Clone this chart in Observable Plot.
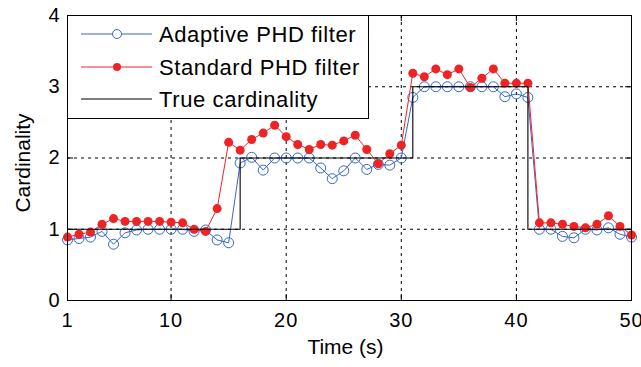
<!DOCTYPE html>
<html><head><meta charset="utf-8">
<script src="https://cdn.jsdelivr.net/npm/d3@7"></script>
<script src="https://cdn.jsdelivr.net/npm/@observablehq/plot@0.6"></script>
<style>
body{margin:0;background:#fff;}
#chart{position:relative;width:641px;height:367px;}
#chart svg text{font-family:"Liberation Sans",Arial,sans-serif;}
#chart g[aria-label="x-axis tick label"] text, #chart g[aria-label="y-axis tick label"] text{letter-spacing:1px;}
</style></head><body><div id="chart"></div>
<script>
const time = [1,2,3,4,5,6,7,8,9,10,11,12,13,14,15,16,17,18,19,20,21,22,23,24,25,26,27,28,29,30,31,32,33,34,35,36,37,38,39,40,41,42,43,44,45,46,47,48,49,50];
const adaptive = [0.85,0.87,0.89,0.97,0.79,0.95,0.99,1.0,1.0,1.0,1.0,0.97,0.99,0.85,0.81,
  1.93,2.01,1.83,2.0,2.0,2.0,2.0,1.86,1.71,1.82,2.0,1.84,1.91,1.9,2.0,
  2.85,3.0,3.0,3.0,3.0,3.0,3.0,3.0,2.86,2.9,
  2.85,1.0,1.0,0.9,0.88,1.0,0.99,1.02,0.93,0.89];
const standard = [0.89,0.93,0.96,1.07,1.15,1.11,1.11,1.11,1.11,1.10,1.09,1.0,0.97,1.29,
  2.22,2.11,2.26,2.35,2.46,2.30,2.19,2.12,2.19,2.18,2.24,2.32,2.12,1.92,2.06,2.18,
  3.19,3.14,3.25,3.17,3.25,2.99,3.12,3.25,3.05,3.05,3.05,
  1.09,1.09,1.07,1.04,1.02,1.07,1.19,1.04,0.92];
const trueCard = [1,1,1,1,1,1,1,1,1,1,1,1,1,1,1,
  2,2,2,2,2,2,2,2,2,2,2,2,2,2,2,
  3,3,3,3,3,3,3,3,3,3,
  1,1,1,1,1,1,1,1,1,1];
const xTicks = [1,10,20,30,40,50];
const yTicks = [0,1,2,3,4];
const xGrid = [10,20,30,40];
const yGrid = [1,2,3];
const seriesNames = ["Adaptive PHD filter","Standard PHD filter","True cardinality"];
const xLabel = "Time (s)";
const yLabel = "Cardinality";

const W = 641, H = 367, mL = 67, mR = 10, mT = 15, mB = 67;
const innerW = W - mL - mR, innerH = H - mT - mB;
const tick = 6;
const blue = "#3566cc", red = "#ee2424";
const rows = time.map((t, i) => ({t, a: adaptive[i], s: standard[i], c: trueCard[i]}));

const plot = Plot.plot({
  width: W, height: H,
  marginLeft: mL, marginRight: mR, marginTop: mT, marginBottom: mB,
  style: {fontFamily: "Liberation Sans, Arial, sans-serif", fontSize: "20px", color: "#000", background: "#fff", overflow: "visible"},
  x: {domain: [1, 50]},
  y: {domain: [0, 4]},
  marks: [
    Plot.ruleX(xGrid, {stroke: "#000", strokeDasharray: "3,4", strokeWidth: 1}),
    Plot.ruleY(yGrid, {stroke: "#000", strokeDasharray: "3,4", strokeWidth: 1}),
    Plot.line(rows, {x: "t", y: "a", stroke: blue, strokeWidth: 1}),
    Plot.dot(rows, {x: "t", y: "a", r: 5, stroke: blue, fill: "none", strokeWidth: 1}),
    Plot.line(rows, {x: "t", y: "s", stroke: red, strokeWidth: 1}),
    Plot.dot(rows, {x: "t", y: "s", r: 4.5, fill: red, stroke: "none"}),
    Plot.line(rows, {x: "t", y: "c", curve: "step-after", stroke: "#000", strokeWidth: 1.1}),
    Plot.ruleX(xTicks, {stroke: "#000", insetTop: innerH - tick}),
    Plot.ruleX(xTicks, {stroke: "#000", insetBottom: innerH - tick}),
    Plot.ruleY(yTicks, {stroke: "#000", insetRight: innerW - tick}),
    Plot.ruleY(yTicks, {stroke: "#000", insetLeft: innerW - tick}),
    Plot.axisX(xTicks, {tickSize: 0, tickPadding: 12, label: null, tickFormat: d => String(d)}),
    Plot.axisY(yTicks, {tickSize: 0, tickPadding: 7, label: null, tickFormat: d => String(d)}),
    Plot.text([xLabel], {frameAnchor: "bottom", textAnchor: "middle", dx: -4, dy: 53, fontSize: 21, fill: "#000"}),
    Plot.text([yLabel], {frameAnchor: "left", textAnchor: "middle", rotate: -90, dx: -44, dy: 5, fontSize: 21, fill: "#000"}),
    Plot.frame({stroke: "#000", strokeWidth: 1})
  ]
});
document.getElementById("chart").appendChild(plot);

// legend box (MATLAB style, inside top-left)
const svg = d3.select(plot);
const lg = svg.append("g").attr("font-family", "Liberation Sans, Arial, sans-serif").attr("text-anchor", "start");
lg.append("rect").attr("x", mL + 0.5).attr("y", mT + 0.5).attr("width", 301).attr("height", 103)
  .attr("fill", "#fff").attr("stroke", "#000");
const rowY = [mT + 19, mT + 52, mT + 84];
const styles = [
  {stroke: blue, marker: "circle"},
  {stroke: red, marker: "dot"},
  {stroke: "#000", marker: null}
];
seriesNames.forEach((name, i) => {
  const y = rowY[i];
  lg.append("line").attr("x1", mL + 14).attr("x2", mL + 85).attr("y1", y).attr("y2", y)
    .attr("stroke", styles[i].stroke).attr("stroke-width", 1);
  if (styles[i].marker === "circle") {
    lg.append("circle").attr("cx", mL + 50).attr("cy", y).attr("r", 4.5)
      .attr("fill", "#fff").attr("stroke", blue);
  } else if (styles[i].marker === "dot") {
    lg.append("circle").attr("cx", mL + 50).attr("cy", y).attr("r", 4)
      .attr("fill", red);
  }
  lg.append("text").attr("x", mL + 92).attr("y", y + 8).attr("font-size", 22)
    .attr("text-anchor", "start").attr("letter-spacing", "0.6px").attr("fill", "#000").text(name);
});
</script></body></html>
